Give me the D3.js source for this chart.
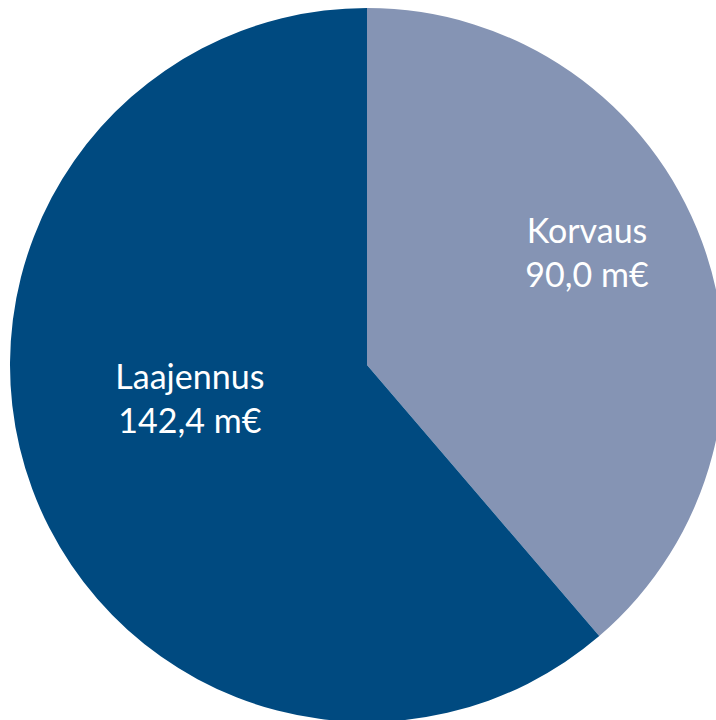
<!DOCTYPE html>
<html lang="fi">
<head>
    <meta charset="UTF-8">
    <title>Investoinnit</title>
    <style>
        body { margin: 0; background: white; }
        text { font-family: Lato, 'Open Sans', sans-serif; fill: white; }
    </style>
</head>
<body>
    <div class="chart"></div>
    <script src="https://d3js.org/d3.v7.min.js"></script>
    <script>
        // Data
        const categories = ["Korvaus", "Laajennus"];
        const values = [90.0, 142.4];
        const valueLabels = ["90,0 m€", "142,4 m€"];
        const colors = ["#8594b4", "#004a80"];

        const width = 716, height = 720;
        const cx = 367, cy = 365, radius = 357;
        // label distance from centre, as a share of radius
        const labelRadius = [0.657, 0.529];

        const svg = d3.select(".chart").append("svg")
            .attr("width", width)
            .attr("height", height);

        const g = svg.append("g").attr("transform", `translate(${cx},${cy})`);

        const pie = d3.pie().sort(null).value(d => d);
        const arcs = pie(values);
        const arc = d3.arc().innerRadius(0).outerRadius(radius);

        g.selectAll("path")
            .data(arcs)
            .enter()
            .append("path")
            .attr("d", arc)
            .attr("fill", (d, i) => colors[i]);

        const labels = g.selectAll("g.label")
            .data(arcs)
            .enter()
            .append("g")
            .attr("class", "label")
            .attr("transform", (d, i) => {
                const r = radius * labelRadius[i];
                const a = (d.startAngle + d.endAngle) / 2;
                return `translate(${Math.sin(a) * r},${-Math.cos(a) * r})`;
            });

        labels.append("text")
            .attr("text-anchor", "middle")
            .attr("y", -41)
            .style("font-size", "34px")
            .text((d, i) => categories[i]);

        labels.append("text")
            .attr("text-anchor", "middle")
            .attr("y", 3)
            .style("font-size", "34px")
            .text((d, i) => valueLabels[i]);
    </script>
</body>
</html>
